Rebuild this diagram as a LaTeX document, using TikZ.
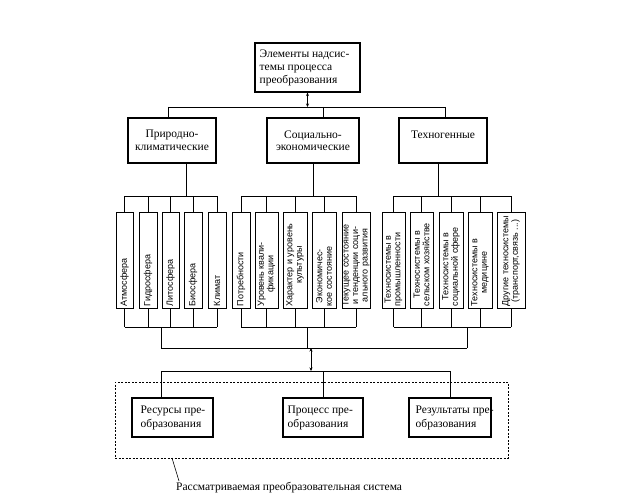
\documentclass[tikz,border=0pt]{standalone}
\usepackage{fontspec}
\setmainfont{Liberation Serif}
\newfontfamily\vsf{Liberation Sans}
\usetikzlibrary{arrows.meta}
\begin{document}
\begin{tikzpicture}[x=1pt,y=-1pt,
  mainbox/.style={draw,line width=1.1pt,inner sep=0pt},
  vbox/.style={draw,line width=0.8pt,inner sep=0pt,minimum height=96pt},
  vtext/.style={rotate=90,anchor=west,align=center,font=\vsf\fontsize{9}{9.5}\selectfont,inner sep=1pt},
  conn/.style={line width=0.6pt},
  dbl/.style={line width=0.6pt,{Stealth[length=3.5pt,width=3pt]}-{Stealth[length=3.5pt,width=3pt]}},
  btxt/.style={font=\fontsize{11.5}{13}\selectfont},
  rtxt/.style={font=\fontsize{11.5}{14}\selectfont},
  ctxt/.style={font=\fontsize{11.5}{12.5}\selectfont}
]
\useasboundingbox (0,0) rectangle (637,500);
% system boundary
\node[draw,line width=0.6pt,dash pattern=on 2pt off 1.5pt,minimum width=393pt,minimum height=76pt,inner sep=0pt] (sys) at (311.5,420) {};
% top element
\node[mainbox,minimum width=105pt,minimum height=49pt] (E) at (307.5,67.5) {};
\node[btxt,anchor=north west,align=left,inner sep=0pt] (Et) at ([xshift=5pt,yshift=-7pt]E.north west) {Элементы надсис-\\темы процесса\\преобразования};
% categories
\node[mainbox,ctxt,align=center,minimum width=88pt,minimum height=45pt] (P) at (172,140.5) {Природно-\\климатические};
\node[mainbox,ctxt,align=center,minimum width=92pt,minimum height=45pt] (S) at (313,140.5) {Социально-\\экономические};
\node[mainbox,ctxt,align=center,minimum width=88pt,minimum height=45pt] (T) at (443,140.5) {Техногенные\\\mbox{}};
% top connectors
\coordinate (tj) at (307.5,107);
\coordinate (tl) at (168,107);
\coordinate (tm) at (323,107);
\coordinate (tr) at (445,107);
\draw[dbl] (E.south) -- (tj);
\draw[conn] (tl) -- (tr);
\draw[conn] (tl) -- (tl |- P.north);
\draw[conn] (tm) -- (tm |- S.north);
\draw[conn] (tr) -- (tr |- T.north);
% group bars
\coordinate (j1) at (186,196);
\coordinate (j2) at (313,196);
\coordinate (j3) at (438.5,196);
\draw[conn] (j1 |- P.south) -- (j1);
\draw[conn] (j2 |- S.south) -- (j2);
\draw[conn] (j3 |- T.south) -- (j3);
\coordinate (b1) at (161,327);
\coordinate (b2) at (307,327);
\coordinate (b3) at (467,327);
% vertical boxes
\foreach \nm/\xl/\xr/\tx in {
  a1/116/133/{Атмосфера}, a2/139/157/{Гидросфера}, a3/162/179/{Литосфера},
  a4/184/202/{Биосфера}, a5/208/226/{Климат},
  s1/232/250/{Потребности}, s2/255/278/{Уровень квали-\\фикации},
  s3/283/307/{Характер и уровень\\культуры}, s4/312/336/{Экономичес-\\кое состояние},
  s5/342/370/{Текущее состояние\\и тенденции соци-\\ального развития},
  t1/382/405/{Техносистемы в\\промышленности}, t2/410/433/{Техносистемы в\\сельском хозяйстве},
  t3/439/463/{Техносистемы в\\социальной сфере}, t4/468/492/{Техносистемы в\\медицине},
  t5/497/525/{Другие техносистемы\\(транспорт,связь ...)}}{
  \node[vbox,minimum width={\xr-\xl}] (\nm) at ({(\xl+\xr)/2},260) {};
  \node[vtext] at ([yshift=1pt]\nm.south) {\tx};
}
% stubs
\foreach \g/\j/\b in {a/j1/b1, s/j2/b2, t/j3/b3}{
  \foreach \i in {1,...,5}{
    \draw[conn] (\g\i.north) -- (\g\i.north |- \j);
    \draw[conn] (\g\i.south) -- (\g\i.south |- \b);
  }
  \draw[conn] (\g1.north |- \j) -- (\g5.north |- \j);
  \draw[conn] (\g1.south |- \b) -- (\g5.south |- \b);
}
% main collector
\coordinate (mL) at (161,348);
\coordinate (mA) at (311,348);
\coordinate (mR) at (467,348);
\draw[conn] (b1) -- (b1 |- mL);
\draw[conn] (b2) -- (b2 |- mL);
\draw[conn] (b3) -- (b3 |- mL);
\draw[conn] (mL) -- (mR);
\coordinate (lA) at (311,371);
\draw[dbl] (mA) -- (lA);
\coordinate (lL) at (161,371);
\coordinate (lM) at (323,371);
\coordinate (lR) at (450,371);
\draw[conn] (lL) -- (lR);
% result boxes
\node[mainbox,minimum width=81pt,minimum height=39pt] (R1) at (172.5,417.5) {};
\node[mainbox,minimum width=80pt,minimum height=39pt] (R2) at (323,417.5) {};
\node[mainbox,minimum width=82pt,minimum height=39pt] (R3) at (450,417.5) {};
\draw[conn] (lL) -- (lL |- R1.north);
\draw[conn] (lM) -- (lM |- R2.north);
\draw[conn] (lR) -- (lR |- R3.north);
\node[rtxt,anchor=west,align=left,inner sep=0pt] (R1t) at ([xshift=9pt]R1.west) {Ресурсы пре-\\образования};
\node[rtxt,anchor=west,align=left,inner sep=0pt] (R2t) at ([xshift=5pt]R2.west) {Процесс пре-\\образования};
\node[rtxt,anchor=west,align=left,inner sep=0pt] (R3t) at ([xshift=7pt]R3.west) {Результаты пре-\\образования};
% label
\coordinate (ld) at (172,458);
\coordinate (le) at (179,481);
\node[btxt,anchor=west,inner sep=0pt] (lab) at (176,488) {Рассматриваемая преобразовательная система};
\draw[conn] (ld) -- (le);
\end{tikzpicture}
\end{document}
